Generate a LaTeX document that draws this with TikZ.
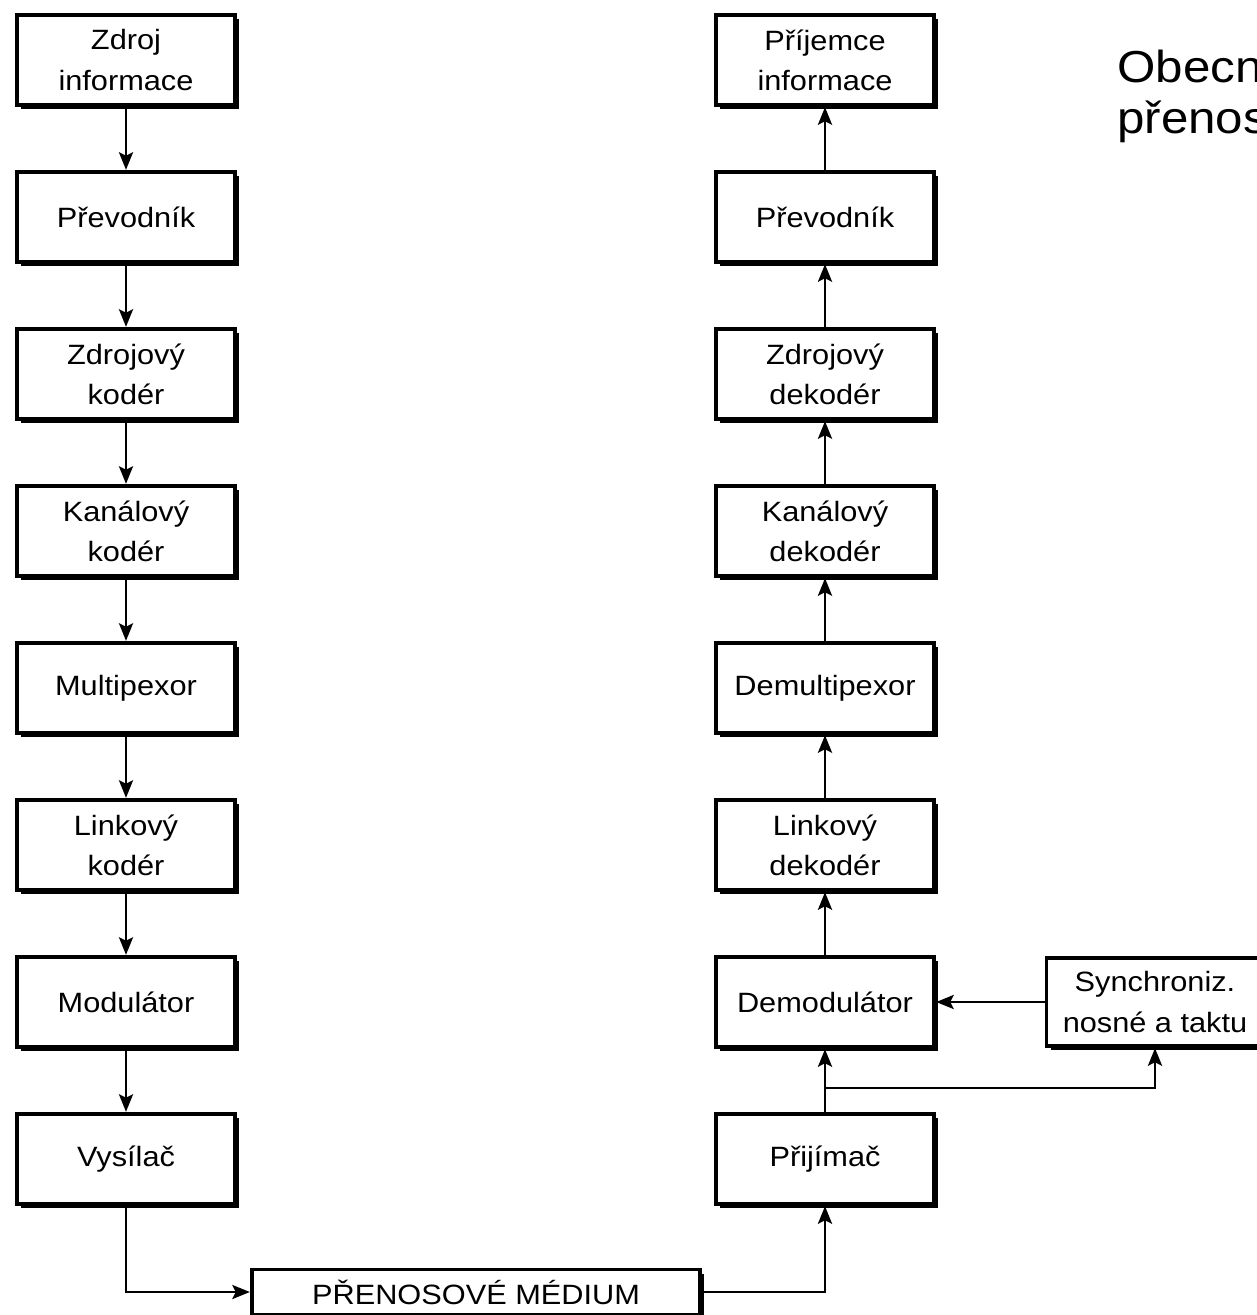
\documentclass[tikz,border=0pt]{standalone}
\usepackage{fontspec}
\setmainfont{Liberation Sans}[FakeStretch=1.1]
\usetikzlibrary{arrows.meta, shadows, positioning}

\begin{document}
\begin{tikzpicture}[x=0.02cm, y=-0.02cm,
    blok/.style={draw, line width=2.2pt, fill=white, inner sep=1pt,
        minimum width=4.37cm, minimum height=1.81cm, align=center,
        font=\fontsize{15.9}{22.8}\selectfont,
        drop shadow={shadow xshift=2.4pt, shadow yshift=-2.4pt, fill=black, opacity=1}},
    sipka/.style={line width=1.5pt, -{Stealth[length=10pt, width=8pt, inset=2pt]}}]
    \useasboundingbox (0,0) rectangle (1257,1315);

    % Vysilaci strana
    \foreach \i/\t in {1/{Zdroj\\informace}, 2/Převodník, 3/{Zdrojový\\kodér},
        4/{Kanálový\\kodér}, 5/Multipexor, 6/{Linkový\\kodér}, 7/Modulátor, 8/Vysílač}
        \node[blok] (v\i) at (126, {60+157*(\i-1)}) {\t};

    % Prijimaci strana
    \foreach \i/\t in {1/{Příjemce\\informace}, 2/Převodník, 3/{Zdrojový\\dekodér},
        4/{Kanálový\\dekodér}, 5/Demultipexor, 6/{Linkový\\dekodér}, 7/Demodulátor, 8/Přijímač}
        \node[blok] (p\i) at (825, {60+157*(\i-1)}) {\t};

    \node[blok, minimum width=4.34cm, minimum height=1.77cm] (sync) at (1155, 1002) {Synchroniz.\\nosné a taktu};
    \node[blok, minimum width=8.97cm, minimum height=0.9cm] (medium) at (476, 1292) {PŘENOSOVÉ MÉDIUM};

    \node[anchor=base west, align=left, inner sep=0pt,
        font=\fontsize{25.5}{28.5}\selectfont] (nadpis) at (1117, 133) {Obecn\\přenos};

    % Sipky
    \foreach \i/\j in {1/2, 2/3, 3/4, 4/5, 5/6, 6/7, 7/8} {
        \draw[sipka] (v\i.south) -- (v\j.north);
        \draw[sipka] (p\j.north) -- (p\i.south);
    }
    \draw[sipka] (v8.south) |- (medium.west);
    \draw[sipka] (medium.east) -| (p8.south);
    \coordinate (odbocka) at (825, 1088);
    \draw[sipka] (odbocka) -| (sync.south);
    \draw[sipka] (sync.west) -- (p7.east);
\end{tikzpicture}
\end{document}
